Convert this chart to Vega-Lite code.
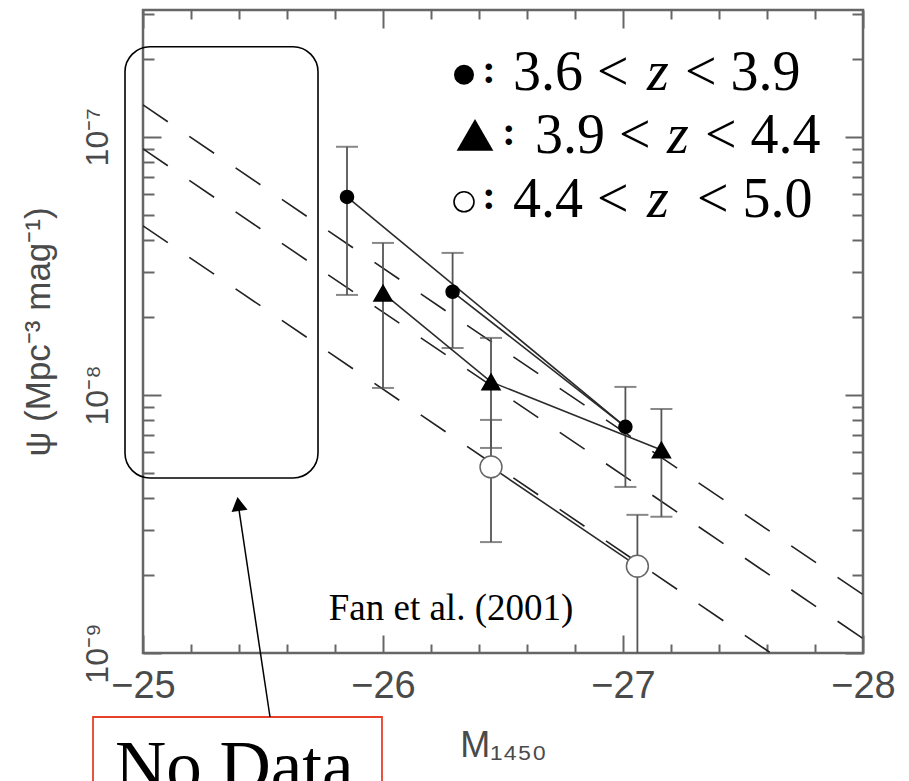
{
  "$schema": "https://vega.github.io/schema/vega-lite/v6.json",
  "width": 720,
  "height": 643,
  "autosize": {"type": "none"},
  "padding": {"left": 143, "top": 10, "right": 46, "bottom": 128},
  "background": "white",
  "config": {"view": {"stroke": "#666666", "strokeWidth": 2.5}},
  "datasets": {
    "model": [
      {"line": "L1", "k": 1, "M": -25, "psi": 1.33e-7},
      {"line": "L1", "k": 2, "M": -28, "psi": 1.683e-9},
      {"line": "L2", "k": 1, "M": -25, "psi": 8.98e-8},
      {"line": "L2", "k": 2, "M": -28, "psi": 1.138e-9},
      {"line": "L3", "k": 1, "M": -25, "psi": 4.52e-8},
      {"line": "L3", "k": 2, "M": -28, "psi": 5.71e-10}
    ],
    "pts": [
      {"grp": "3.6 < z < 3.9", "M": -25.85, "psi": 5.85e-8, "lo": 2.44e-8, "hi": 9.15e-8},
      {"grp": "3.6 < z < 3.9", "M": -26.29, "psi": 2.51e-8, "lo": 1.52e-8, "hi": 3.55e-8},
      {"grp": "3.6 < z < 3.9", "M": -27.01, "psi": 7.52e-9, "lo": 4.4e-9, "hi": 1.074e-8},
      {"grp": "3.9 < z < 4.4", "M": -26.0, "psi": 2.48e-8, "lo": 1.064e-8, "hi": 3.88e-8},
      {"grp": "3.9 < z < 4.4", "M": -26.45, "psi": 1.123e-8, "lo": 6.23e-9, "hi": 1.663e-8},
      {"grp": "3.9 < z < 4.4", "M": -27.16, "psi": 6.12e-9, "lo": 3.37e-9, "hi": 8.82e-9},
      {"grp": "4.4 < z < 5.0", "M": -26.45, "psi": 5.26e-9, "lo": 2.69e-9, "hi": 8.0e-9},
      {"grp": "4.4 < z < 5.0", "M": -27.06, "psi": 2.17e-9, "lo": 5e-10, "hi": 3.43e-9}
    ],
    "conn": [
      {"seg": "c13", "k": 1, "M": -25.85, "psi": 5.85e-8},
      {"seg": "c13", "k": 2, "M": -27.01, "psi": 7.52e-9},
      {"seg": "c23", "k": 1, "M": -26.29, "psi": 2.51e-8},
      {"seg": "c23", "k": 2, "M": -27.01, "psi": 7.52e-9},
      {"seg": "t", "k": 1, "M": -26.0, "psi": 2.48e-8},
      {"seg": "t", "k": 2, "M": -26.45, "psi": 1.123e-8},
      {"seg": "t", "k": 3, "M": -27.16, "psi": 6.12e-9},
      {"seg": "o", "k": 1, "M": -26.45, "psi": 5.26e-9},
      {"seg": "o", "k": 2, "M": -27.06, "psi": 2.17e-9}
    ],
    "legtext": [
      {"t": "3.6 <", "M": -26.5417, "psi": 1.521e-7},
      {"t": "< 3.9", "M": -27.2583, "psi": 1.521e-7},
      {"t": "3.9 <", "M": -26.6333, "psi": 8.67e-8},
      {"t": "< 4.4", "M": -27.3417, "psi": 8.67e-8},
      {"t": "4.4 <", "M": -26.5417, "psi": 4.897e-8},
      {"t": "< 5.0", "M": -27.3083, "psi": 4.897e-8}
    ],
    "legz": [
      {"t": "z", "M": -27.1, "psi": 1.521e-7},
      {"t": "z", "M": -27.1833, "psi": 8.67e-8},
      {"t": "z", "M": -27.1, "psi": 4.897e-8}
    ],
    "legcolon": [
      {"t": ":", "M": -26.4417, "psi": 1.62e-7},
      {"t": ":", "M": -26.525, "psi": 9.3e-8},
      {"t": ":", "M": -26.4417, "psi": 5.26e-8}
    ]
  },
  "resolve": {"axis": {"x": "independent", "y": "independent"}},
  "layer": [
    {
      "data": {"name": "model"},
      "mark": {"type": "line", "strokeDash": [30, 26], "color": "#222222", "strokeWidth": 1.6, "clip": true},
      "encoding": {
        "x": {
          "field": "M", "type": "quantitative",
          "scale": {"domain": [-28, -25], "reverse": true, "nice": false, "zero": false},
          "axis": {
            "orient": "bottom",
            "values": [-25, -25.2, -25.4, -25.6, -25.8, -26, -26.2, -26.4, -26.6, -26.8, -27, -27.2, -27.4, -27.6, -27.8, -28],
            "domain": false, "grid": false,
            "tickColor": "#666666", "tickWidth": 2,
            "tickSize": {"condition": {"test": "datum.value % 1 == 0", "value": -18}, "value": -9},
            "labelExpr": "datum.value % 1 == 0 ? '−' + format(abs(datum.value), 'd') : ''",
            "labelFont": "Liberation Sans", "labelFontSize": 38, "labelColor": "#4a4a4a",
            "labelPadding": 32, "labelFlush": false, "labelOverlap": false, "labelBound": false,
            "title": "M₁₄₅₀", "titleFont": "Liberation Sans", "titleFontSize": 36,
            "titleFontWeight": "normal", "titleColor": "#4a4a4a", "titlePadding": 14
          }
        },
        "y": {
          "field": "psi", "type": "quantitative",
          "scale": {"type": "log", "domain": [1e-9, 3.1e-7], "nice": false},
          "axis": {
            "orient": "left",
            "values": [1e-9, 2e-9, 3e-9, 4e-9, 5e-9, 6e-9, 7e-9, 8e-9, 9e-9, 1e-8, 2e-8, 3e-8, 4e-8, 5e-8, 6e-8, 7e-8, 8e-8, 9e-8, 1e-7, 2e-7, 3e-7],
            "domain": false, "grid": false,
            "tickColor": "#666666", "tickWidth": 2,
            "tickSize": {"condition": {"test": "abs(log(datum.value)/LN10 - round(log(datum.value)/LN10)) < 0.001", "value": -18}, "value": -11},
            "labelExpr": "abs(log(datum.value)/LN10 + 9) < 0.001 ? '10⁻⁹' : abs(log(datum.value)/LN10 + 8) < 0.001 ? '10⁻⁸' : abs(log(datum.value)/LN10 + 7) < 0.001 ? '10⁻⁷' : ''",
            "labelAngle": -90, "labelAlign": "center", "labelBaseline": "bottom",
            "labelFont": "Liberation Sans", "labelFontSize": 32, "labelColor": "#4a4a4a",
            "labelPadding": 47, "labelFlush": false, "labelOverlap": false, "labelBound": false,
            "title": "ψ (Mpc⁻³ mag⁻¹)", "titleFont": "Liberation Sans", "titleFontSize": 35,
            "titleFontWeight": "normal", "titleColor": "#4a4a4a", "titlePadding": 18
          }
        },
        "detail": {"field": "line"},
        "order": {"field": "k"}
      }
    },
    {
      "data": {"name": "pts"},
      "mark": {"type": "rule", "color": "#555555", "strokeWidth": 1.8, "clip": true},
      "encoding": {
        "x": {
          "field": "M", "type": "quantitative",
          "scale": {"domain": [-28, -25], "reverse": true, "nice": false, "zero": false},
          "axis": {
            "orient": "top",
            "values": [-25, -25.2, -25.4, -25.6, -25.8, -26, -26.2, -26.4, -26.6, -26.8, -27, -27.2, -27.4, -27.6, -27.8, -28],
            "domain": false, "grid": false, "labels": false, "title": null,
            "tickColor": "#666666", "tickWidth": 2,
            "tickSize": {"condition": {"test": "datum.value % 1 == 0", "value": -18}, "value": -9}
          }
        },
        "y": {
          "field": "lo", "type": "quantitative",
          "scale": {"type": "log", "domain": [1e-9, 3.1e-7], "nice": false},
          "axis": {
            "orient": "right",
            "values": [1e-9, 2e-9, 3e-9, 4e-9, 5e-9, 6e-9, 7e-9, 8e-9, 9e-9, 1e-8, 2e-8, 3e-8, 4e-8, 5e-8, 6e-8, 7e-8, 8e-8, 9e-8, 1e-7, 2e-7, 3e-7],
            "domain": false, "grid": false, "labels": false, "title": null,
            "tickColor": "#666666", "tickWidth": 2,
            "tickSize": {"condition": {"test": "abs(log(datum.value)/LN10 - round(log(datum.value)/LN10)) < 0.001", "value": -18}, "value": -11}
          }
        },
        "y2": {"field": "hi"}
      }
    },
    {
      "data": {"name": "pts"},
      "mark": {"type": "tick", "orient": "horizontal", "size": 22, "thickness": 2, "color": "#555555", "clip": true},
      "encoding": {
        "x": {"field": "M", "type": "quantitative", "scale": {"domain": [-28, -25], "reverse": true, "nice": false, "zero": false}, "axis": null},
        "y": {"field": "hi", "type": "quantitative", "scale": {"type": "log", "domain": [1e-9, 3.1e-7], "nice": false}, "axis": null}
      }
    },
    {
      "data": {"name": "pts"},
      "mark": {"type": "tick", "orient": "horizontal", "size": 22, "thickness": 2, "color": "#555555", "clip": true},
      "encoding": {
        "x": {"field": "M", "type": "quantitative", "scale": {"domain": [-28, -25], "reverse": true, "nice": false, "zero": false}, "axis": null},
        "y": {"field": "lo", "type": "quantitative", "scale": {"type": "log", "domain": [1e-9, 3.1e-7], "nice": false}, "axis": null}
      }
    },
    {
      "data": {"name": "conn"},
      "mark": {"type": "line", "color": "#2a2a2a", "strokeWidth": 1.6, "clip": true},
      "encoding": {
        "x": {"field": "M", "type": "quantitative", "scale": {"domain": [-28, -25], "reverse": true, "nice": false, "zero": false}, "axis": null},
        "y": {"field": "psi", "type": "quantitative", "scale": {"type": "log", "domain": [1e-9, 3.1e-7], "nice": false}, "axis": null},
        "detail": {"field": "seg"},
        "order": {"field": "k"}
      }
    },
    {
      "data": {"name": "pts"},
      "mark": {"type": "point", "filled": true, "strokeWidth": 1.5, "opacity": 1},
      "encoding": {
        "x": {"field": "M", "type": "quantitative", "scale": {"domain": [-28, -25], "reverse": true, "nice": false, "zero": false}, "axis": null},
        "y": {"field": "psi", "type": "quantitative", "scale": {"type": "log", "domain": [1e-9, 3.1e-7], "nice": false}, "axis": null},
        "shape": {"field": "grp", "type": "nominal", "scale": {"domain": ["3.6 < z < 3.9", "3.9 < z < 4.4", "4.4 < z < 5.0"], "range": ["circle", "triangle-up", "circle"]}, "legend": null},
        "fill": {"field": "grp", "type": "nominal", "scale": {"domain": ["3.6 < z < 3.9", "3.9 < z < 4.4", "4.4 < z < 5.0"], "range": ["#000000", "#000000", "#ffffff"]}, "legend": null},
        "stroke": {"field": "grp", "type": "nominal", "scale": {"domain": ["3.6 < z < 3.9", "3.9 < z < 4.4", "4.4 < z < 5.0"], "range": ["#000000", "#000000", "#666666"]}, "legend": null},
        "size": {"field": "grp", "type": "nominal", "scale": {"domain": ["3.6 < z < 3.9", "3.9 < z < 4.4", "4.4 < z < 5.0"], "range": [170, 480, 230]}, "legend": null}
      }
    },
    {
      "data": {"values": [{"grp": "3.6 < z < 3.9", "M": -26.3375, "psi": 1.739e-7}]},
      "mark": {"type": "point", "shape": "circle", "filled": true, "color": "black", "size": 400, "opacity": 1},
      "encoding": {
        "x": {"field": "M", "type": "quantitative", "scale": {"domain": [-28, -25], "reverse": true, "nice": false, "zero": false}, "axis": null},
        "y": {"field": "psi", "type": "quantitative", "scale": {"type": "log", "domain": [1e-9, 3.1e-7], "nice": false}, "axis": null}
      }
    },
    {
      "data": {"values": [{"grp": "3.9 < z < 4.4", "M": -26.3833, "psi": 1.018e-7}]},
      "mark": {"type": "point", "shape": "triangle-up", "filled": true, "color": "black", "size": 1350, "opacity": 1},
      "encoding": {
        "x": {"field": "M", "type": "quantitative", "scale": {"domain": [-28, -25], "reverse": true, "nice": false, "zero": false}, "axis": null},
        "y": {"field": "psi", "type": "quantitative", "scale": {"type": "log", "domain": [1e-9, 3.1e-7], "nice": false}, "axis": null}
      }
    },
    {
      "data": {"values": [{"grp": "4.4 < z < 5.0", "M": -26.3375, "psi": 5.6e-8}]},
      "mark": {"type": "point", "shape": "circle", "filled": false, "stroke": "black", "fill": "white", "strokeWidth": 1.6, "size": 400, "opacity": 1},
      "encoding": {
        "x": {"field": "M", "type": "quantitative", "scale": {"domain": [-28, -25], "reverse": true, "nice": false, "zero": false}, "axis": null},
        "y": {"field": "psi", "type": "quantitative", "scale": {"type": "log", "domain": [1e-9, 3.1e-7], "nice": false}, "axis": null}
      }
    },
    {
      "data": {"name": "legcolon"},
      "mark": {"type": "text", "font": "Liberation Serif", "fontSize": 40, "fontWeight": "bold", "align": "center", "baseline": "alphabetic", "color": "black"},
      "encoding": {
        "x": {"field": "M", "type": "quantitative", "scale": {"domain": [-28, -25], "reverse": true, "nice": false, "zero": false}, "axis": null},
        "y": {"field": "psi", "type": "quantitative", "scale": {"type": "log", "domain": [1e-9, 3.1e-7], "nice": false}, "axis": null},
        "text": {"field": "t"}
      }
    },
    {
      "data": {"name": "legtext"},
      "mark": {"type": "text", "font": "Liberation Serif", "fontSize": 56, "align": "left", "baseline": "alphabetic", "color": "black"},
      "encoding": {
        "x": {"field": "M", "type": "quantitative", "scale": {"domain": [-28, -25], "reverse": true, "nice": false, "zero": false}, "axis": null},
        "y": {"field": "psi", "type": "quantitative", "scale": {"type": "log", "domain": [1e-9, 3.1e-7], "nice": false}, "axis": null},
        "text": {"field": "t"}
      }
    },
    {
      "data": {"name": "legz"},
      "mark": {"type": "text", "font": "Liberation Serif", "fontSize": 56, "fontStyle": "italic", "align": "left", "baseline": "alphabetic", "color": "black"},
      "encoding": {
        "x": {"field": "M", "type": "quantitative", "scale": {"domain": [-28, -25], "reverse": true, "nice": false, "zero": false}, "axis": null},
        "y": {"field": "psi", "type": "quantitative", "scale": {"type": "log", "domain": [1e-9, 3.1e-7], "nice": false}, "axis": null},
        "text": {"field": "t"}
      }
    },
    {
      "data": {"values": [{"t": "Fan et al. (2001)", "M": -26.2833, "psi": 1.343e-9}]},
      "mark": {"type": "text", "font": "Liberation Serif", "fontSize": 37, "align": "center", "baseline": "alphabetic", "color": "black"},
      "encoding": {
        "x": {"field": "M", "type": "quantitative", "scale": {"domain": [-28, -25], "reverse": true, "nice": false, "zero": false}, "axis": null},
        "y": {"field": "psi", "type": "quantitative", "scale": {"type": "log", "domain": [1e-9, 3.1e-7], "nice": false}, "axis": null},
        "text": {"field": "t"}
      }
    },
    {
      "data": {"values": [{"M1": -24.925, "M2": -25.7292, "p1": 2.232e-7, "p2": 4.768e-9}]},
      "mark": {"type": "rect", "filled": false, "stroke": "black", "strokeWidth": 1.6, "cornerRadius": 25, "clip": false},
      "encoding": {
        "x": {"field": "M1", "type": "quantitative", "scale": {"domain": [-28, -25], "reverse": true, "nice": false, "zero": false}, "axis": null},
        "x2": {"field": "M2"},
        "y": {"field": "p1", "type": "quantitative", "scale": {"type": "log", "domain": [1e-9, 3.1e-7], "nice": false}, "axis": null},
        "y2": {"field": "p2"}
      }
    },
    {
      "data": {"values": [{"M1": -24.7917, "M2": -25.9958, "p1": 5.65e-10, "p2": 2e-10}]},
      "mark": {"type": "rect", "filled": false, "stroke": "#e8402a", "strokeWidth": 1.8, "clip": false},
      "encoding": {
        "x": {"field": "M1", "type": "quantitative", "scale": {"domain": [-28, -25], "reverse": true, "nice": false, "zero": false}, "axis": null},
        "x2": {"field": "M2"},
        "y": {"field": "p1", "type": "quantitative", "scale": {"type": "log", "domain": [1e-9, 3.1e-7], "nice": false}, "axis": null},
        "y2": {"field": "p2"}
      }
    },
    {
      "data": {"values": [{"t": "No Data", "M": -24.8833, "psi": 2.94e-10}]},
      "mark": {"type": "text", "font": "Liberation Serif", "fontSize": 71, "align": "left", "baseline": "alphabetic", "color": "black"},
      "encoding": {
        "x": {"field": "M", "type": "quantitative", "scale": {"domain": [-28, -25], "reverse": true, "nice": false, "zero": false}, "axis": null},
        "y": {"field": "psi", "type": "quantitative", "scale": {"type": "log", "domain": [1e-9, 3.1e-7], "nice": false}, "axis": null},
        "text": {"field": "t"}
      }
    },
    {
      "data": {"values": [{"M1": -25.5292, "M2": -25.4, "p1": 5.65e-10, "p2": 3.583e-9}]},
      "mark": {"type": "rule", "color": "black", "strokeWidth": 1.5, "clip": false},
      "encoding": {
        "x": {"field": "M1", "type": "quantitative", "scale": {"domain": [-28, -25], "reverse": true, "nice": false, "zero": false}, "axis": null},
        "x2": {"field": "M2"},
        "y": {"field": "p1", "type": "quantitative", "scale": {"type": "log", "domain": [1e-9, 3.1e-7], "nice": false}, "axis": null},
        "y2": {"field": "p2"}
      }
    },
    {
      "data": {"values": [{"M": -25.3979, "psi": 3.779e-9}]},
      "mark": {"type": "point", "shape": "triangle-up", "filled": true, "color": "black", "size": 260, "angle": -8.5, "opacity": 1},
      "encoding": {
        "x": {"field": "M", "type": "quantitative", "scale": {"domain": [-28, -25], "reverse": true, "nice": false, "zero": false}, "axis": null},
        "y": {"field": "psi", "type": "quantitative", "scale": {"type": "log", "domain": [1e-9, 3.1e-7], "nice": false}, "axis": null}
      }
    }
  ]
}
